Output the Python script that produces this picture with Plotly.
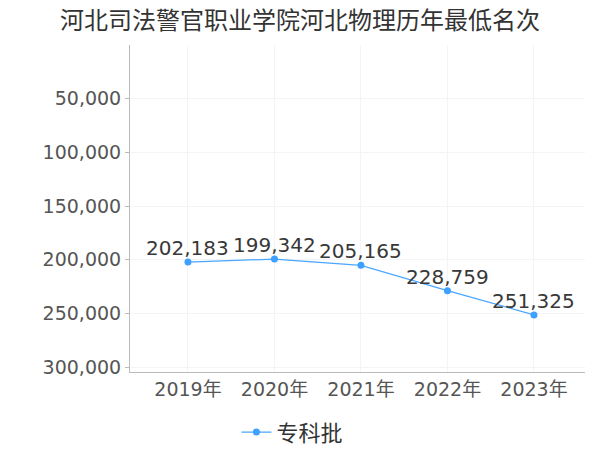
import plotly.graph_objects as go

years = ["2019年", "2020年", "2021年", "2022年", "2023年"]
ranks = [202183, 199342, 205165, 228759, 251325]
series_name = "专科批"
title = "河北司法警官职业学院河北物理历年最低名次"
tick_vals = [50000, 100000, 150000, 200000, 250000, 300000]

font_family = "DejaVu Sans, Noto Sans CJK SC, sans-serif"

fig = go.Figure()
fig.add_trace(go.Scatter(
    x=years, y=ranks, mode="lines+markers", name=series_name,
    line=dict(color="#4aa6ff", width=1.2),
    marker=dict(color="#3ea0ff", size=7),
    cliponaxis=False,
))
for x, v in zip(years, ranks):
    fig.add_annotation(x=x, y=v, text=f"{v:,}", showarrow=False,
                       xanchor="center", yanchor="middle", yshift=14,
                       font=dict(size=20, color="#383838", family=font_family))
fig.update_layout(
    width=600, height=450,
    margin=dict(l=130, r=15, t=45, b=78, autoexpand=False),
    paper_bgcolor="white", plot_bgcolor="white",
    title=dict(text=title, x=0.5, xanchor="center", y=0.955, yanchor="middle",
               font=dict(size=24, color="#333333", family="Noto Sans CJK SC, sans-serif")),
    showlegend=True,
    legend=dict(orientation="h", x=0.357, xanchor="center", y=-0.12, yanchor="top",
                itemwidth=30,
                font=dict(size=22, color="#333333", family="Noto Sans CJK SC, sans-serif")),
    font=dict(family=font_family),
)
fig.update_xaxes(
    range=[-0.67, 4.59], showgrid=True, gridcolor="#f4f4f4",
    showline=True, linecolor="#bbbbbb", linewidth=1,
    tickfont=dict(size=19, color="#555555", family=font_family),
    ticks="", zeroline=False, automargin=False,
)
fig.update_yaxes(
    range=[304500, 0], tickvals=tick_vals, tickformat=",",
    showgrid=True, gridcolor="#f4f4f4",
    showline=True, linecolor="#bbbbbb", linewidth=1,
    ticks="outside", ticklen=4, tickcolor="#bbbbbb",
    tickfont=dict(size=19, color="#555555", family=font_family),
    zeroline=False, automargin=False,
)
fig.write_html("out.html", config={"displayModeBar": False},
               post_script="document.body.style.margin='0';")
